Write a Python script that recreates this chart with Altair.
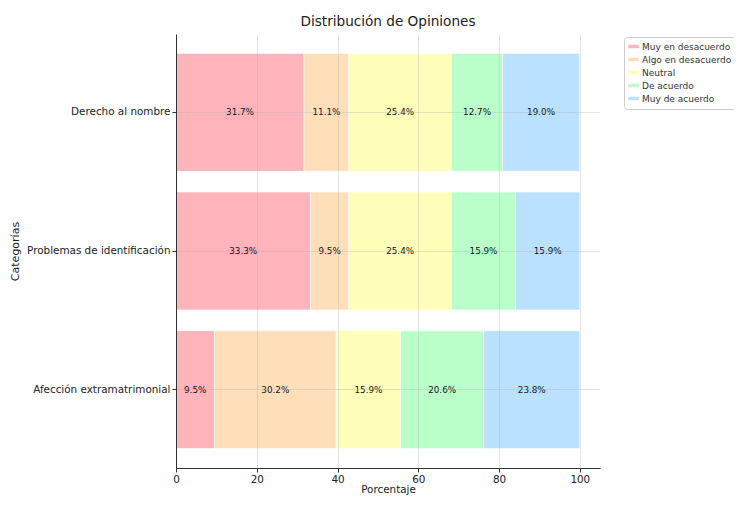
import altair as alt
import pandas as pd

categories = ["Derecho al nombre", "Problemas de identificación", "Afección extramatrimonial"]
opinions = ["Muy en desacuerdo", "Algo en desacuerdo", "Neutral", "De acuerdo", "Muy de acuerdo"]
colors = ["#FFB3BA", "#FFDFBA", "#FFFFBA", "#BAFFC9", "#BAE1FF"]
values = {
    "Derecho al nombre": [31.7, 11.1, 25.4, 12.7, 19.0],
    "Problemas de identificación": [33.3, 9.5, 25.4, 15.9, 15.9],
    "Afección extramatrimonial": [9.5, 30.2, 15.9, 20.6, 23.8],
}

rows = []
for cat in categories:
    start = 0.0
    for op, v in zip(opinions, values[cat]):
        rows.append({"Categoría": cat, "Opinión": op, "valor": v,
                     "start": start, "end": start + v, "mid": start + v / 2,
                     "label": f"{v:.1f}%"})
        start += v
df = pd.DataFrame(rows)

FONT = "DejaVu Sans"

y_enc = alt.Y("Categoría:N", sort=categories, title="Categorías",
              scale=alt.Scale(paddingInner=0.15, paddingOuter=0.14),
              axis=alt.Axis(bandPosition=0.5, grid=True, gridColor="#b0b0b0", gridOpacity=0.35,
                            labelFontSize=10.4, titleFontSize=11, labelColor="#222", titleColor="#222",
                            titleFontWeight="normal", labelFont=FONT, titleFont=FONT,
                            domainColor="#333", tickColor="#333", tickSize=4, labelPadding=2,
                            titlePadding=6, zindex=1, labelLimit=300))

bars = alt.Chart(df).mark_bar(stroke="white", strokeWidth=0.6).encode(
    x=alt.X("start:Q", title="Porcentaje",
            scale=alt.Scale(domain=[0, 105], nice=False),
            axis=alt.Axis(values=[0, 20, 40, 60, 80, 100], grid=True, gridColor="#b0b0b0",
                          gridOpacity=0.35, labelFontSize=10.4, titleFontSize=10.4,
                          labelColor="#222", titleColor="#222", titleFontWeight="normal",
                          labelFont=FONT, titleFont=FONT, domainColor="#333", tickColor="#333",
                          tickSize=4, titlePadding=0, zindex=1, labelFlush=False)),
    x2="end:Q",
    y=y_enc,
    color=alt.Color("Opinión:N", sort=opinions, title=None,
                    scale=alt.Scale(domain=opinions, range=colors),
                    legend=alt.Legend(orient="none", legendX=448, legendY=3,
                                      fillColor="white", strokeColor="#cccccc", cornerRadius=3,
                                      padding=5, labelFontSize=9, labelFont=FONT,
                                      labelColor="#333", rowPadding=3,
                                      symbolType="M-1.5,-0.5H1.5V0.5H-1.5Z", symbolSize=49,
                                      symbolStrokeWidth=0, symbolOpacity=1)),
)

text = alt.Chart(df).mark_text(fontSize=8.8, font=FONT, color="#111").encode(
    x="mid:Q",
    y=alt.Y("Categoría:N", sort=categories),
    text="label:N",
)

chart = alt.layer(bars, text).properties(
    width=424, height=434,
    title=alt.TitleParams("Distribución de Opiniones", fontSize=13.6, font=FONT,
                          fontWeight="normal", color="#222", anchor="middle", offset=5),
    autosize=alt.AutoSizeParams(type="none"),
    padding={"left": 168, "top": 26, "right": 134, "bottom": 29},
).configure_view(stroke=None)

chart.save("out.html", embed_options={"renderer": "svg", "actions": False})
